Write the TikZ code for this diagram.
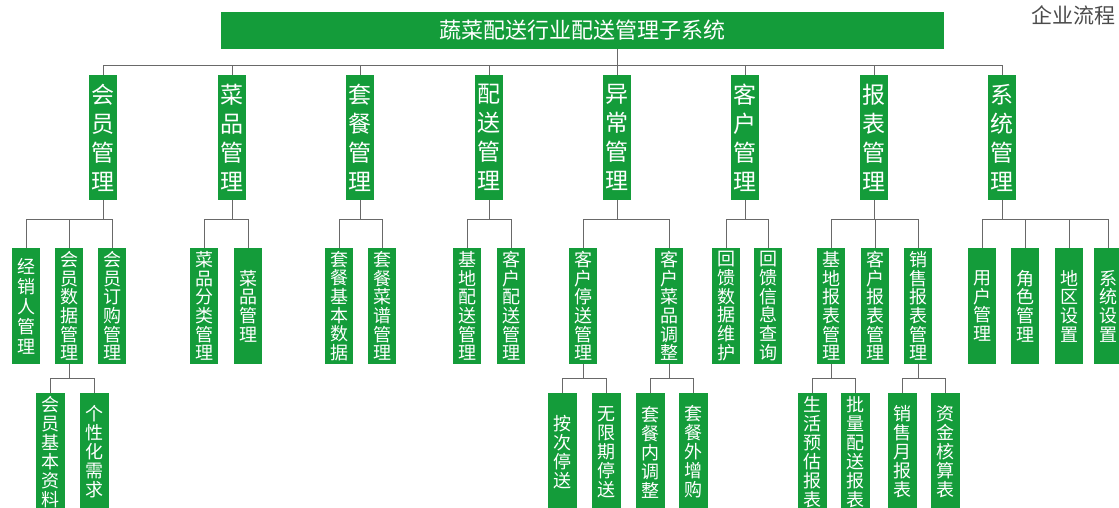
\documentclass[tikz,border=0pt]{standalone}
\usepackage{fontspec}
\setmainfont{Noto Sans CJK SC}
\definecolor{boxgreen}{RGB}{20,156,58}
\definecolor{linegray}{RGB}{105,105,105}
\definecolor{wmgray}{RGB}{75,75,75}
\tikzset{
  gbox/.style={fill=boxgreen, text=white, inner sep=0pt, align=center, minimum width=28pt},
  lone/.style={gbox, minimum height=125pt, font=\fontsize{23}{29}\selectfont},
  ltwo/.style={gbox, minimum height=116pt, font=\fontsize{18}{18.7}\selectfont},
  lthree/.style={gbox, minimum width=29pt, minimum height=118pt, font=\fontsize{18}{19}\selectfont},
  wide/.style={font=\fontsize{18}{20}\selectfont},
  conn/.style={draw=linegray, line width=0.9pt},
}
\begin{document}
\begin{tikzpicture}[x=1pt,y=-1pt]
\useasboundingbox (0,0) rectangle (1119,507);
\begin{scope}
\clip (0,0) rectangle (1119,507);
% title bar
\node[fill=boxgreen, text=white, inner sep=0pt, minimum width=723pt, minimum height=37pt, font=\fontsize{22}{22}\selectfont] (top) at (582.5,30.5) {蔬菜配送行业配送管理子系统};
\node[text=wmgray, inner sep=0pt, anchor=west, font=\fontsize{21}{21}\selectfont] (wm) at (1031,15) {企业流程};
% bus coordinates
\coordinate (bus1) at (0,65);
\coordinate (bus2) at (0,219);
\coordinate (bus3) at (0,378);
% level 1
\node[lone] (hy) at (103,137.5) {会\\员\\管\\理};
\node[lone] (cp) at (232,137.5) {菜\\品\\管\\理};
\node[lone] (tc) at (360,137.5) {套\\餐\\管\\理};
\node[lone] (ps) at (489,137.5) {配\\送\\管\\理};
\node[lone] (yc) at (617,137.5) {异\\常\\管\\理};
\node[lone] (kh) at (745,137.5) {客\\户\\管\\理};
\node[lone] (bb) at (874,137.5) {报\\表\\管\\理};
\node[lone] (xt) at (1002,137.5) {系\\统\\管\\理};
% level 2
\node[ltwo,wide] (jxr) at (26,306) {经\\销\\人\\管\\理};
\node[ltwo] (hysj) at (69,306) {会\\员\\数\\据\\管\\理};
\node[ltwo] (hydg) at (112,306) {会\\员\\订\\购\\管\\理};
\node[ltwo] (cpfl) at (204,306) {菜\\品\\分\\类\\管\\理};
\node[ltwo] (cpgl) at (248,306) {菜\\品\\管\\理};
\node[ltwo] (tcjb) at (339,306) {套\\餐\\基\\本\\数\\据};
\node[ltwo] (tccp) at (382,306) {套\\餐\\菜\\谱\\管\\理};
\node[ltwo] (jdps) at (467,306) {基\\地\\配\\送\\管\\理};
\node[ltwo] (khps) at (511,306) {客\\户\\配\\送\\管\\理};
\node[ltwo] (khts) at (583,306) {客\\户\\停\\送\\管\\理};
\node[ltwo] (khcp) at (669,306) {客\\户\\菜\\品\\调\\整};
\node[ltwo] (hksj) at (726,306) {回\\馈\\数\\据\\维\\护};
\node[ltwo] (hkxx) at (768,306) {回\\馈\\信\\息\\查\\询};
\node[ltwo] (jdbb) at (831,306) {基\\地\\报\\表\\管\\理};
\node[ltwo] (khbb) at (875,306) {客\\户\\报\\表\\管\\理};
\node[ltwo] (xsbb) at (918,306) {销\\售\\报\\表\\管\\理};
\node[ltwo] (yhgl) at (982,306) {用\\户\\管\\理};
\node[ltwo] (jsgl) at (1025,306) {角\\色\\管\\理};
\node[ltwo] (dqsz) at (1069,306) {地\\区\\设\\置};
\node[ltwo] (xtsz) at (1108,306) {系\\统\\设\\置};
% level 3
\node[lthree] (hyjb) at (50,452) {会\\员\\基\\本\\资\\料};
\node[lthree] (gxh) at (94,452) {个\\性\\化\\需\\求};
\node[lthree] (acts) at (562,452) {按\\次\\停\\送};
\node[lthree] (wxq) at (606,452) {无\\限\\期\\停\\送};
\node[lthree] (tcn) at (650,452) {套\\餐\\内\\调\\整};
\node[lthree] (tcw) at (693,452) {套\\餐\\外\\增\\购};
\node[lthree] (shyg) at (812,452) {生\\活\\预\\估\\报\\表};
\node[lthree] (plps) at (855,452) {批\\量\\配\\送\\报\\表};
\node[lthree] (xsyb) at (902,452) {销\\售\\月\\报\\表};
\node[lthree] (zjhs) at (945,452) {资\\金\\核\\算\\表};
% connectors level 0 -> 1
\draw[conn] (top.south -| yc.north) -- (yc.north);
\draw[conn] (hy.north |- bus1) -- (xt.north |- bus1);
\foreach \n in {hy,cp,tc,ps,kh,bb,xt}{
  \draw[conn] (\n.north |- bus1) -- (\n.north);
}
% level 1 -> 2 and 2 -> 3
\foreach \p/\first/\last/\kids/\bus in {
  hy/jxr/hydg/{jxr,hysj,hydg}/bus2,
  cp/cpfl/cpgl/{cpfl,cpgl}/bus2,
  tc/tcjb/tccp/{tcjb,tccp}/bus2,
  ps/jdps/khps/{jdps,khps}/bus2,
  yc/khts/khcp/{khts,khcp}/bus2,
  kh/hksj/hkxx/{hksj,hkxx}/bus2,
  bb/jdbb/xsbb/{jdbb,khbb,xsbb}/bus2,
  xt/yhgl/xtsz/{yhgl,jsgl,dqsz,xtsz}/bus2,
  hysj/hyjb/gxh/{hyjb,gxh}/bus3,
  khts/acts/wxq/{acts,wxq}/bus3,
  khcp/tcn/tcw/{tcn,tcw}/bus3,
  jdbb/shyg/plps/{shyg,plps}/bus3,
  xsbb/xsyb/zjhs/{xsyb,zjhs}/bus3}{
  \draw[conn] (\p.south) -- (\p.south |- \bus);
  \draw[conn] (\first.north |- \bus) -- (\last.north |- \bus);
  \foreach \c in \kids {
    \draw[conn] (\c.north |- \bus) -- (\c.north);
  }
}
\end{scope}
\end{tikzpicture}
\end{document}
